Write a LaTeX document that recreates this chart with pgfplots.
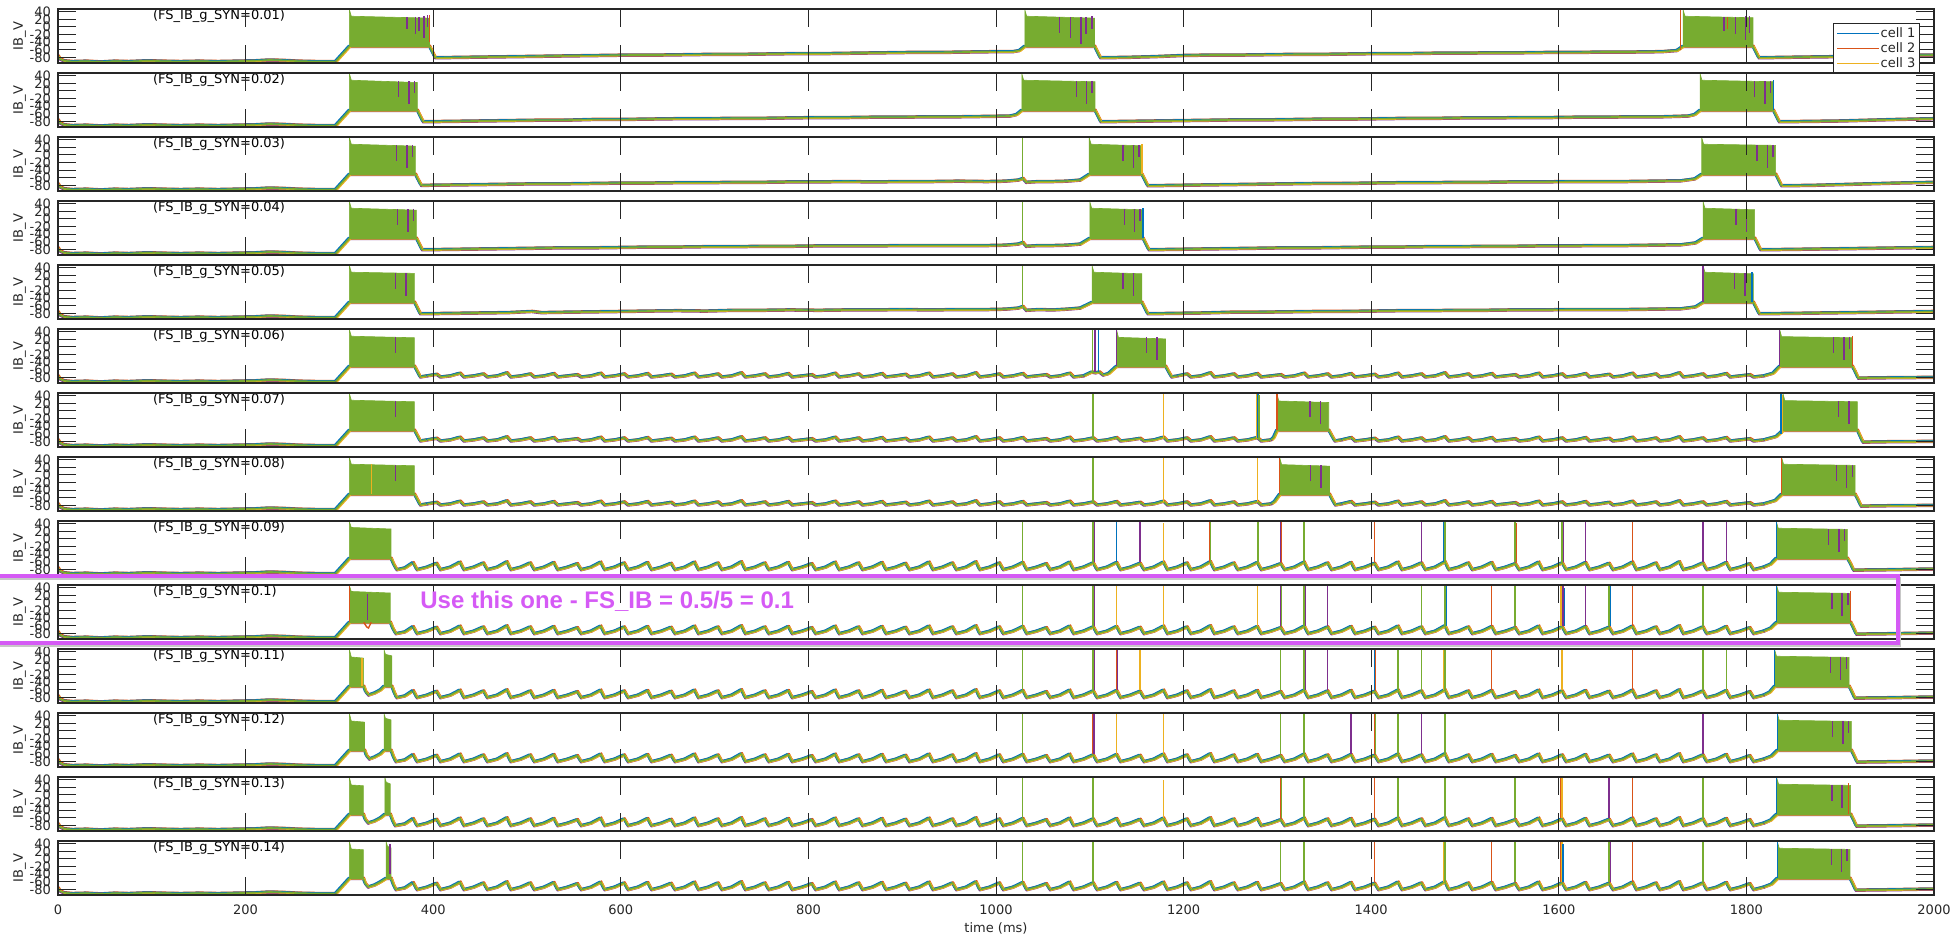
\documentclass[border=0pt]{standalone}
\usepackage{pgfplots}
\usepackage{pgfplotstable}
\pgfplotsset{compat=1.18}
\usepackage{fontspec}
\setmainfont{DejaVu Sans}
\newfontfamily\annfont{Liberation Sans}
\definecolor{c1}{RGB}{0,114,189}
\definecolor{c2}{RGB}{217,83,25}
\definecolor{c3}{RGB}{237,177,32}
\definecolor{c4}{RGB}{126,47,142}
\definecolor{c5}{RGB}{119,172,48}
\definecolor{mag}{RGB}{213,90,245}
\definecolor{axc}{RGB}{38,38,38}
\newcommand{\lab}{\fontsize{6.5pt}{7pt}\selectfont}

\pgfplotstableread{
t v
0 -76
2 -84
6 -89
15 -91
30 -90
45 -92
60 -90
75 -91
95 -89
110 -90
130 -91
150 -90
170 -91
190 -90
210 -89
225 -87
240 -88
255 -90
275 -91
296 -91
}\pretab

\pgfplotstableread{
t a b
378.5 -70 -62
382.5 -79 -81
393.5 -76 -74
403.5 -72 -64
407.5 -79 -81
418.5 -76 -74
428.5 -69 -61
432.5 -79 -81
443.5 -76 -74
453.5 -71 -63
457.5 -79 -81
468.5 -76 -74
478.5 -68 -60
482.5 -79 -81
493.5 -76 -74
503.5 -71 -63
507.5 -79 -81
518.5 -76 -74
528.5 -70 -62
532.5 -79 -81
543.5 -76 -74
553.5 -73 -65
557.5 -79 -81
568.5 -76 -74
578.5 -69 -61
582.5 -79 -81
593.5 -76 -74
603.5 -71 -63
607.5 -79 -81
618.5 -76 -74
628.5 -70 -62
632.5 -79 -81
643.5 -76 -74
653.5 -72 -64
657.5 -79 -81
668.5 -76 -74
678.5 -69 -61
682.5 -79 -81
693.5 -76 -74
703.5 -71 -63
707.5 -79 -81
718.5 -76 -74
728.5 -68 -60
732.5 -79 -81
743.5 -76 -74
753.5 -71 -63
757.5 -79 -81
768.5 -76 -74
778.5 -70 -62
782.5 -79 -81
793.5 -76 -74
803.5 -73 -65
807.5 -79 -81
818.5 -76 -74
828.5 -69 -61
832.5 -79 -81
843.5 -76 -74
853.5 -71 -63
857.5 -79 -81
868.5 -76 -74
878.5 -70 -62
882.5 -79 -81
893.5 -76 -74
903.5 -72 -64
907.5 -79 -81
918.5 -76 -74
928.5 -69 -61
932.5 -79 -81
943.5 -76 -74
953.5 -71 -63
957.5 -79 -81
968.5 -76 -74
978.5 -68 -60
982.5 -79 -81
993.5 -76 -74
1003.5 -71 -63
1007.5 -79 -81
1018.5 -76 -74
1028.5 -70 -62
1032.5 -79 -81
1043.5 -76 -74
1053.5 -73 -65
1057.5 -79 -81
1068.5 -76 -74
1078.5 -69 -61
1082.5 -79 -81
1093.5 -76 -74
1103.5 -71 -63
1107.5 -79 -81
1118.5 -76 -74
1128.5 -70 -62
1132.5 -79 -81
1143.5 -76 -74
1153.5 -72 -64
1157.5 -79 -81
1168.5 -76 -74
1178.5 -69 -61
1182.5 -79 -81
1193.5 -76 -74
1203.5 -71 -63
1207.5 -79 -81
1218.5 -76 -74
1228.5 -68 -60
1232.5 -79 -81
1243.5 -76 -74
1253.5 -71 -63
1257.5 -79 -81
1268.5 -76 -74
1278.5 -70 -62
1282.5 -79 -81
1293.5 -76 -74
1303.5 -73 -65
1307.5 -79 -81
1318.5 -76 -74
1328.5 -69 -61
1332.5 -79 -81
1343.5 -76 -74
1353.5 -71 -63
1357.5 -79 -81
1368.5 -76 -74
1378.5 -70 -62
1382.5 -79 -81
1393.5 -76 -74
1403.5 -72 -64
1407.5 -79 -81
1418.5 -76 -74
1428.5 -69 -61
1432.5 -79 -81
1443.5 -76 -74
1453.5 -71 -63
1457.5 -79 -81
1468.5 -76 -74
1478.5 -68 -60
1482.5 -79 -81
1493.5 -76 -74
1503.5 -71 -63
1507.5 -79 -81
1518.5 -76 -74
1528.5 -70 -62
1532.5 -79 -81
1543.5 -76 -74
1553.5 -73 -65
1557.5 -79 -81
1568.5 -76 -74
1578.5 -69 -61
1582.5 -79 -81
1593.5 -76 -74
1603.5 -71 -63
1607.5 -79 -81
1618.5 -76 -74
1628.5 -70 -62
1632.5 -79 -81
1643.5 -76 -74
1653.5 -72 -64
1657.5 -79 -81
1668.5 -76 -74
1678.5 -69 -61
1682.5 -79 -81
1693.5 -76 -74
1703.5 -71 -63
1707.5 -79 -81
1718.5 -76 -74
1728.5 -68 -60
1732.5 -79 -81
1743.5 -76 -74
1753.5 -71 -63
1757.5 -79 -81
1768.5 -76 -74
1778.5 -70 -62
1782.5 -79 -81
1793.5 -76 -74
1803.5 -73 -65
1807.5 -79 -81
1818.5 -76 -74
1828.5 -69 -61
1832.5 -79 -81
1843.5 -76 -74
}\saw

\pgfplotsset{
  tr/.style={forget plot, line width=0.8pt, line join=round},
  panel/.style={
    anchor=north west, at={(29pt,-#1)},
    scale only axis, width=938pt, height=27pt,
    xmin=0, xmax=2000, ymin=-95, ymax=47,
    xtick={0,200,...,2000}, ytick={-80,-60,...,40},
    xticklabels={},
    tick align=inside, major tick length=9pt,
    every tick/.style={line width=0.5pt, axc},
    axis line style={line width=0.7pt, axc},
    ticklabel style={font=\lab, text=axc},
    /pgf/number format/assume math mode=true,
    ylabel={IB\_V},
    ylabel style={at={(axis description cs:-0.0205,0.5)}, anchor=center, font=\lab, text=axc},
    axis on top,
  },
}

\newcommand{\fz}[2]{%
 \addplot[tr,c4,yshift=-0.5pt,#1] #2;
 \addplot[tr,c2,yshift=0.45pt,xshift=0.4pt,#1] #2;
 \addplot[tr,c1,yshift=0.3pt,xshift=-0.5pt,#1] #2;
 \addplot[tr,c3,yshift=-0.25pt,xshift=0.6pt,#1] #2;
 \addplot[tr,c5,#1] #2;}
\newcommand{\blk}[1]{\addplot[forget plot, fill=c5, draw=c5, line width=0.3pt] coordinates {#1} -- cycle;}
\newcommand{\stk}[2]{\addplot[forget plot, #1, line width=0.7pt, unbounded coords=jump] coordinates {#2};}
\newcommand{\ptitle}[1]{\node[anchor=west, inner sep=0pt, font=\lab, text=black] at (axis cs:101,28) {#1};}

\begin{document}
\begin{tikzpicture}
%% ---------------- panel 1
\begin{axis}[panel=4.5pt,
  legend style={at={(axis description cs:0.99254,0.7407)}, anchor=north east, draw=axc, line width=0.6pt, fill=white, font=\lab, inner xsep=1.5pt, inner ysep=1pt, row sep=0pt, text=axc,
    nodes={inner sep=0.5pt, text height=5.5pt, text depth=1pt}},
  legend cell align=left,
  legend image code/.code={\draw[#1] (0pt,0pt) -- (21pt,0pt);}]
\addlegendimage{c1,line width=0.6pt}\addlegendentry{cell 1}
\addlegendimage{c2,line width=0.6pt}\addlegendentry{cell 2}
\addlegendimage{c3,line width=0.6pt}\addlegendentry{cell 3}
\fz{}{table {\pretab}}
\fz{}{coordinates {(296,-91) (310.7,-51) (396,-51) (399,-66) (402,-81) (430,-80) (460,-79) (490,-78) (520,-77) (550,-76) (580,-75) (610,-74) (640,-74) (670,-73) (700,-72) (730,-72) (760,-71) (790,-70) (820,-70) (850,-69) (880,-68) (910,-67) (940,-67) (970,-66) (1000,-65) (1018,-65) (1025,-62) (1030.7,-51) (1105,-51) (1108,-66) (1111,-81) (1140,-80) (1170,-78) (1200,-75) (1230,-74) (1260,-74) (1290,-73) (1320,-72) (1350,-72) (1380,-71) (1410,-70) (1440,-70) (1470,-69) (1500,-69) (1530,-68) (1560,-68) (1590,-67) (1620,-67) (1650,-66) (1680,-66) (1710,-65) (1726,-62) (1732.5,-51) (1807,-51) (1810,-66) (1813,-81) (1840,-80) (1870,-79) (1900,-78) (1930,-76) (1960,-75) (2000,-74)}}
\blk{(310.7,-51) (310.7,45) (312.7,28) (396,23) (396,-51)}
\blk{(1030.7,-51) (1030.7,45) (1032.7,28) (1105,23) (1105,-51)}
\blk{(1732.5,-51) (1732.5,45) (1734.5,28) (1807,24) (1807,-51)}
\stk{c2}{(1729.5,-62) (1729.5,45) (1729.5,nan) (1779.7,26) (1779.7,-5) (1779.7,nan) (396,30) (396,-40) (396,nan)}
\stk{c4}{(372,25) (372,-5) (372,nan) (381,26) (381,-20) (381,nan) (385,25) (385,-12) (385,nan) (390,28) (390,-28) (390,nan) (394,30) (394,0) (394,nan) (1067.6,25) (1067.6,-15) (1067.6,nan) (1079.4,25) (1079.4,-30) (1079.4,nan) (1090.7,26) (1090.7,-44) (1090.7,nan) (1095.9,26) (1095.9,-20) (1095.9,nan) (1102.4,28) (1102.4,-5) (1102.4,nan) (1776,25) (1776,-10) (1776,nan) (1788.6,26) (1788.6,-20) (1788.6,nan) (1799.2,28) (1799.2,-35) (1799.2,nan) (1803,28) (1803,-15) (1803,nan)}
\ptitle{(FS\_IB\_g\_SYN=0.01)}
\end{axis}
%% ---------------- panel 2
\begin{axis}[panel=36.5pt]
\fz{}{table {\pretab}}
\fz{}{coordinates {(296,-91) (310.7,-51) (383,-51) (386,-66) (389,-81) (420,-80) (450,-79) (480,-78) (510,-77) (540,-77) (570,-75) (600,-75) (630,-74) (660,-73) (690,-73) (720,-72) (750,-72) (780,-71) (810,-70) (840,-70) (870,-69) (900,-69) (930,-68) (960,-68) (990,-67) (1015,-66) (1022,-62) (1027.5,-51) (1105.5,-51) (1108.5,-66) (1111.5,-81) (1140,-80) (1170,-79) (1200,-78) (1230,-77) (1260,-76) (1290,-76) (1320,-75) (1350,-74) (1380,-74) (1410,-73) (1440,-72) (1470,-72) (1500,-71) (1530,-71) (1560,-70) (1590,-70) (1620,-69) (1650,-69) (1680,-68) (1710,-68) (1738,-66) (1745,-62) (1750.6,-51) (1828.7,-51) (1831.7,-66) (1834.7,-81) (1870,-80) (1900,-79) (1930,-77) (1960,-75) (2000,-73)}}
\blk{(310.7,-51) (310.7,45) (312.7,28) (383,22) (383,-51)}
\blk{(1027.5,-51) (1027.5,45) (1029.5,28) (1105.5,24) (1105.5,-51)}
\blk{(1750.6,-51) (1750.6,45) (1752.6,28) (1828.7,24) (1828.7,-51)}
\stk{c4}{(363,25) (363,-15) (363,nan) (374,25) (374,-35) (374,nan) (380,26) (380,-5) (380,nan) (1085.5,25) (1085.5,-15) (1085.5,nan) (1096.5,25) (1096.5,-35) (1096.5,nan) (1102.5,26) (1102.5,-5) (1102.5,nan) (1808.7,25) (1808.7,-15) (1808.7,nan) (1819.7,25) (1819.7,-35) (1819.7,nan) (1825.7,26) (1825.7,-5) (1825.7,nan)}
\stk{c1}{(1828.7,28) (1828.7,-51) (1828.7,nan)}
\ptitle{(FS\_IB\_g\_SYN=0.02)}
\end{axis}
%% ---------------- panel 3
\begin{axis}[panel=68.5pt]
\fz{}{table {\pretab}}
\fz{}{coordinates {(296,-91) (310.7,-51) (381,-51) (384,-66) (387,-80) (420,-79) (450,-78) (480,-77) (510,-76) (540,-76) (570,-75) (600,-74) (630,-74) (660,-73) (690,-73) (720,-72) (750,-72) (780,-71) (810,-71) (840,-70) (870,-71) (900,-70) (930,-70) (960,-69) (990,-70) (1010,-69) (1024,-66) (1028.5,-62) (1032,-72) (1045,-70) (1060,-70) (1075,-69) (1090,-66) (1099.4,-51) (1155.5,-51) (1158.5,-66) (1161.5,-81) (1190,-80) (1220,-79) (1250,-78) (1280,-77) (1310,-76) (1340,-75) (1370,-75) (1400,-74) (1430,-73) (1460,-73) (1490,-72) (1520,-72) (1550,-71) (1580,-71) (1610,-70) (1640,-70) (1670,-70) (1700,-69) (1730,-68) (1745,-63) (1752.4,-51) (1831.2,-51) (1834.2,-66) (1837.2,-81) (1870,-80) (1900,-78) (1930,-76) (1960,-74) (2000,-72)}}
\blk{(310.7,-51) (310.7,45) (312.7,28) (381,23) (381,-51)}
\blk{(1099.4,-51) (1099.4,45) (1101.4,28) (1155.5,24) (1155.5,-51)}
\blk{(1752.4,-51) (1752.4,45) (1754.4,28) (1831.2,25) (1831.2,-51)}
\stk{c5}{(1028.5,-62) (1028.5,44) (1028.5,nan)}
\stk{c4}{(361,25) (361,-15) (361,nan) (372,25) (372,-35) (372,nan) (378,26) (378,-5) (378,nan) (1135.5,25) (1135.5,-15) (1135.5,nan) (1146.5,25) (1146.5,-35) (1146.5,nan) (1152.5,26) (1152.5,-5) (1152.5,nan) (1811.2,25) (1811.2,-15) (1811.2,nan) (1822.2,25) (1822.2,-35) (1822.2,nan) (1828.2,26) (1828.2,-5) (1828.2,nan)}
\stk{c3}{(1155.5,28) (1155.5,-51) (1155.5,nan)}
\ptitle{(FS\_IB\_g\_SYN=0.03)}
\end{axis}
%% ---------------- panel 4
\begin{axis}[panel=100.5pt]
\fz{}{table {\pretab}}
\fz{}{coordinates {(296,-91) (310.7,-51) (382,-51) (385,-66) (388,-81) (420,-80) (450,-79) (480,-78) (510,-77) (540,-76) (570,-76) (600,-75) (630,-74) (660,-74) (690,-73) (720,-73) (750,-72) (780,-72) (810,-71) (840,-71) (870,-71) (900,-70) (930,-70) (960,-70) (990,-70) (1010,-69) (1024,-66) (1028.5,-62) (1032,-72) (1045,-70) (1060,-70) (1075,-69) (1090,-66) (1100,-51) (1156.7,-51) (1159.7,-66) (1162.7,-81) (1190,-80) (1220,-79) (1250,-78) (1280,-77) (1310,-76) (1340,-76) (1370,-75) (1400,-74) (1430,-74) (1460,-73) (1490,-73) (1520,-72) (1550,-72) (1580,-71) (1610,-71) (1640,-70) (1670,-70) (1700,-69) (1730,-68) (1746,-63) (1753.8,-51) (1808.8,-51) (1811.8,-66) (1814.8,-81) (1850,-80) (1880,-79) (1910,-78) (1940,-77) (1970,-76) (2000,-75)}}
\blk{(310.7,-51) (310.7,45) (312.7,28) (382,23) (382,-51)}
\blk{(1100,-51) (1100,45) (1102,28) (1156.7,24) (1156.7,-51)}
\blk{(1753.8,-51) (1753.8,45) (1755.8,28) (1808.8,24) (1808.8,-51)}
\stk{c5}{(1028.5,-62) (1028.5,44) (1028.5,nan)}
\stk{c4}{(362,25) (362,-15) (362,nan) (373,25) (373,-35) (373,nan) (379,26) (379,-5) (379,nan) (1136.7,25) (1136.7,-15) (1136.7,nan) (1147.7,25) (1147.7,-35) (1147.7,nan) (1153.7,26) (1153.7,-5) (1153.7,nan) (1788.8,25) (1788.8,-15) (1788.8,nan) (1799.8,25) (1799.8,-35) (1799.8,nan)}
\stk{c1}{(1156.7,28) (1156.7,-51) (1156.7,nan)}
\ptitle{(FS\_IB\_g\_SYN=0.04)}
\end{axis}
%% ---------------- panel 5
\begin{axis}[panel=132.5pt]
\fz{}{table {\pretab}}
\fz{}{coordinates {(296,-91) (310.7,-51) (380,-51) (383,-66) (386,-81) (420,-80) (450,-79) (480,-78) (505,-75) (515,-78) (540,-77) (570,-76) (600,-75) (630,-74) (660,-73) (690,-74) (720,-72) (750,-72) (780,-71) (810,-72) (840,-71) (870,-71) (900,-70) (930,-71) (960,-70) (990,-70) (1010,-69) (1024,-66) (1028.5,-62) (1032,-72) (1045,-70) (1060,-71) (1075,-69) (1090,-66) (1102.4,-51) (1155.5,-51) (1158.5,-66) (1161.5,-81) (1190,-80) (1220,-79) (1250,-77) (1280,-77) (1310,-76) (1340,-75) (1370,-75) (1400,-74) (1430,-73) (1460,-73) (1490,-72) (1520,-72) (1550,-71) (1580,-71) (1610,-70) (1640,-70) (1670,-70) (1700,-69) (1730,-68) (1746,-63) (1753.8,-51) (1807.4,-51) (1810.4,-66) (1813.4,-81) (1850,-80) (1880,-79) (1910,-78) (1940,-77) (1970,-76) (2000,-75)}}
\blk{(310.7,-51) (310.7,45) (312.7,28) (380,25) (380,-51)}
\blk{(1102.4,-51) (1102.4,45) (1104.4,28) (1155.5,24) (1155.5,-51)}
\blk{(1753.8,-51) (1753.8,45) (1755.8,28) (1807.4,24) (1807.4,-51)}
\stk{c5}{(1028.5,-62) (1028.5,44) (1028.5,nan)}
\stk{c4}{(360,25) (360,-15) (360,nan) (371,25) (371,-35) (371,nan) (1135.5,25) (1135.5,-15) (1135.5,nan) (1146.5,25) (1146.5,-35) (1146.5,nan) (1787.4,25) (1787.4,-15) (1787.4,nan) (1798.4,25) (1798.4,-35) (1798.4,nan) (1753.8,45) (1753.8,-51) (1753.8,nan)}
\stk{c1}{(1806,28) (1806,-51) (1806,nan)}
\ptitle{(FS\_IB\_g\_SYN=0.05)}
\end{axis}
%% ---------------- panel 6
\begin{axis}[panel=164.5pt]
\fz{}{table {\pretab}}
\fz{}{coordinates {(296,-91) (310.7,-51) (380,-51) (383,-65) (386,-79) (393.5,-76)}}
\fz{restrict x to domain=393:1096}{table[x=t,y=a] {\saw}}
\fz{}{coordinates {(1093.5,-76) (1102,-66) (1106,-68) (1110,-66) (1114,-74) (1120,-70) (1128.5,-51) (1180.7,-51) (1184,-66) (1187,-79) (1193.5,-76)}}
\fz{restrict x to domain=1193:1820}{table[x=t,y=a] {\saw}}
\fz{}{coordinates {(1818.5,-76) (1828.5,-69) (1835.5,-51) (1912.9,-51) (1916,-66) (1919,-82) (1950,-81) (2000,-80)}}
\blk{(310.7,-51) (310.7,45) (312.7,28) (380,24) (380,-51)}
\blk{(1128.5,-51) (1128.5,45) (1130.5,25) (1180.7,21) (1180.7,-51)}
\blk{(1835.5,-51) (1835.5,45) (1837.5,27) (1912.9,24) (1912.9,-51)}
\stk{c1}{(1109.5,-66) (1109.5,45) (1109.5,nan)}
\stk{c4}{(1105.5,-66) (1105.5,45) (1105.5,nan) (1128.5,-51) (1128.5,45) (1128.5,nan) (1835.5,-51) (1835.5,45) (1835.5,nan) (360,25) (360,-15) (360,nan) (1160.7,25) (1160.7,-15) (1160.7,nan) (1171.7,25) (1171.7,-35) (1171.7,nan) (1892.9,25) (1892.9,-15) (1892.9,nan) (1903.9,25) (1903.9,-35) (1903.9,nan) (1909.9,26) (1909.9,-5) (1909.9,nan)}
\stk{c2}{(1912.9,28) (1912.9,-51) (1912.9,nan)}
\stk{c5}{(1103,-66) (1103,45) (1103,nan)}
\ptitle{(FS\_IB\_g\_SYN=0.06)}
\end{axis}
%% ---------------- panel 7
\begin{axis}[panel=196.5pt]
\fz{}{table {\pretab}}
\fz{}{coordinates {(296,-91) (310.7,-51) (380,-51) (383,-65) (386,-79) (393.5,-76)}}
\fz{restrict x to domain=393:1296}{table[x=t,y=a] {\saw}}
\fz{}{coordinates {(1293.5,-76) (1296,-70) (1299.5,-51) (1354.7,-51) (1358,-66) (1361,-79) (1368.5,-76)}}
\fz{restrict x to domain=1368:1820}{table[x=t,y=a] {\saw}}
\fz{}{coordinates {(1818.5,-76) (1832,-67) (1839,-51) (1918.3,-51) (1921,-66) (1924,-82) (1950,-81) (2000,-80)}}
\blk{(310.7,-51) (310.7,45) (312.7,28) (380,24) (380,-51)}
\blk{(1299.5,-51) (1299.5,45) (1301.5,26) (1354.7,22) (1354.7,-51)}
\blk{(1839,-51) (1839,45) (1841,27) (1918.3,24) (1918.3,-51)}
\stk{c3}{(1178.5,-70) (1178.5,44) (1178.5,nan) (1277.5,-70) (1277.5,44) (1277.5,nan) (1838,-60) (1838,42) (1838,nan)}
\stk{c1}{(1279.5,-70) (1279.5,44) (1279.5,nan) (1837,-60) (1837,44) (1837,nan)}
\stk{c4}{(360,25) (360,-15) (360,nan) (1334.7,25) (1334.7,-15) (1334.7,nan) (1345.7,25) (1345.7,-35) (1345.7,nan) (1898.3,25) (1898.3,-15) (1898.3,nan) (1909.3,25) (1909.3,-35) (1909.3,nan)}
\stk{c2}{(1299.5,-51) (1299.5,45) (1299.5,nan)}
\stk{c5}{(1103.5,-70) (1103.5,44) (1103.5,nan) (1280.5,-70) (1280.5,42) (1280.5,nan)}
\ptitle{(FS\_IB\_g\_SYN=0.07)}
\end{axis}
%% ---------------- panel 8
\begin{axis}[panel=228.5pt]
\fz{}{table {\pretab}}
\fz{}{coordinates {(296,-91) (310.7,-51) (380,-51) (383,-65) (386,-79) (393.5,-76)}}
\fz{restrict x to domain=393:1296}{table[x=t,y=a] {\saw}}
\fz{}{coordinates {(1293.5,-76) (1297,-70) (1302.5,-51) (1355.5,-51) (1358.5,-66) (1361.5,-79) (1368.5,-76)}}
\fz{restrict x to domain=1368:1820}{table[x=t,y=a] {\saw}}
\fz{}{coordinates {(1818.5,-76) (1831,-67) (1837.6,-51) (1915.8,-51) (1919,-66) (1922,-82) (1950,-81) (2000,-80)}}
\blk{(310.7,-51) (310.7,45) (312.7,28) (380,24) (380,-51)}
\blk{(1302.5,-51) (1302.5,45) (1304.5,27) (1355.5,23) (1355.5,-51)}
\blk{(1837.6,-51) (1837.6,45) (1839.6,28) (1915.8,25) (1915.8,-51)}
\stk{c3}{(1178.5,-70) (1178.5,44) (1178.5,nan) (1278.5,-70) (1278.5,44) (1278.5,nan) (334,28) (334,-51) (334,nan)}
\stk{c2}{(1837.6,-51) (1837.6,45) (1837.6,nan) (1302.5,-51) (1302.5,45) (1302.5,nan)}
\stk{c4}{(360,25) (360,-15) (360,nan) (1335.5,25) (1335.5,-15) (1335.5,nan) (1346.5,25) (1346.5,-35) (1346.5,nan) (1895.8,25) (1895.8,-15) (1895.8,nan) (1906.8,25) (1906.8,-35) (1906.8,nan) (1912.8,26) (1912.8,-5) (1912.8,nan)}
\stk{c5}{(1103.5,-70) (1103.5,44) (1103.5,nan)}
\ptitle{(FS\_IB\_g\_SYN=0.08)}
\end{axis}
%% ---------------- panel 9
\begin{axis}[panel=260.5pt]
\fz{}{table {\pretab}}
\fz{}{coordinates {(296,-91) (310.7,-51) (355,-51) (358,-68) (361,-81) (370,-76) (378.5,-62)}}
\fz{restrict x to domain=378:1820}{table[x=t,y=b] {\saw}}
\fz{}{coordinates {(1818.5,-74) (1826,-66) (1831.9,-51) (1907.6,-51) (1911,-66) (1914,-82) (1950,-81) (2000,-79)}}
\blk{(310.7,-51) (310.7,45) (312.7,30) (355,26) (355,-51)}
\blk{(1831.9,-51) (1831.9,45) (1833.9,28) (1907.6,25) (1907.6,-51)}
\stk{c2}{(1227.5,-62) (1227.5,44) (1227.5,nan) (1304.5,-62) (1304.5,44) (1304.5,nan) (1403.5,-62) (1403.5,44) (1403.5,nan) (1554.5,-62) (1554.5,42) (1554.5,nan) (1678.5,-62) (1678.5,44) (1678.5,nan)}
\stk{c3}{(1178.5,-62) (1178.5,41) (1178.5,nan) (1278.5,-62) (1278.5,44) (1278.5,nan)}
\stk{c1}{(1128.5,-62) (1128.5,44) (1128.5,nan) (1477.5,-62) (1477.5,44) (1477.5,nan) (1831.9,-51) (1831.9,45) (1831.9,nan)}
\stk{c4}{(1104.5,-62) (1104.5,44) (1104.5,nan) (1153.5,-62) (1153.5,44) (1153.5,nan) (1303.5,-62) (1303.5,44) (1303.5,nan) (1453.5,-62) (1453.5,44) (1453.5,nan) (1604.5,-62) (1604.5,44) (1604.5,nan) (1628.5,-62) (1628.5,44) (1628.5,nan) (1753.5,-62) (1753.5,44) (1753.5,nan) (1778.5,-62) (1778.5,44) (1778.5,nan) (1887.6,25) (1887.6,-15) (1887.6,nan) (1898.6,25) (1898.6,-35) (1898.6,nan) (1904.6,26) (1904.6,-5) (1904.6,nan)}
\stk{c5}{(1028.5,-62) (1028.5,44) (1028.5,nan) (1103.5,-62) (1103.5,44) (1103.5,nan) (1228.5,-62) (1228.5,44) (1228.5,nan) (1279.5,-62) (1279.5,44) (1279.5,nan) (1328.5,-62) (1328.5,44) (1328.5,nan) (1478.5,-62) (1478.5,44) (1478.5,nan) (1553.5,-62) (1553.5,44) (1553.5,nan) (1603.5,-62) (1603.5,44) (1603.5,nan)}
\ptitle{(FS\_IB\_g\_SYN=0.09)}
\end{axis}
%% ---------------- panel 10
\begin{axis}[panel=292.5pt]
\fz{}{table {\pretab}}
\fz{}{coordinates {(296,-91) (310.7,-51) (354.2,-51) (357,-68) (360,-81) (370,-76) (378.5,-62)}}
\fz{restrict x to domain=378:1820}{table[x=t,y=b] {\saw}}
\fz{}{coordinates {(1818.5,-74) (1826,-66) (1832.3,-51) (1911.1,-51) (1914,-66) (1917,-82) (1950,-81) (2000,-79)}}
\blk{(310.7,-51) (310.7,45) (312.7,30) (354.2,26) (354.2,-51)}
\blk{(1832.3,-51) (1832.3,45) (1834.3,28) (1911.1,25) (1911.1,-51)}
\stk{c2}{(310.7,-51) (310.7,45) (310.7,nan) (1528.5,-62) (1528.5,44) (1528.5,nan) (1678.5,-62) (1678.5,44) (1678.5,nan) (1911.1,30) (1911.1,-51) (1911.1,nan)}
\addplot[forget plot, c2, line width=0.7pt] coordinates {(326,-51) (329,-63) (331,-66) (334,-51)};
\stk{c3}{(1128.5,-62) (1128.5,44) (1128.5,nan) (1178.5,-62) (1178.5,44) (1178.5,nan) (1278.5,-62) (1278.5,44) (1278.5,nan) (1602.5,-62) (1602.5,44) (1602.5,nan)}
\stk{c1}{(1480.5,-62) (1480.5,44) (1480.5,nan) (1605.5,-62) (1605.5,40) (1605.5,nan) (1654.5,-62) (1654.5,44) (1654.5,nan) (1832.3,-51) (1832.3,45) (1832.3,nan)}
\stk{c4}{(330,24) (330,-45) (330,nan) (1104.5,-62) (1104.5,44) (1104.5,nan) (1303.5,-62) (1303.5,44) (1303.5,nan) (1329.5,-62) (1329.5,44) (1329.5,nan) (1353.5,-62) (1353.5,44) (1353.5,nan) (1479.5,-62) (1479.5,44) (1479.5,nan) (1604.5,-62) (1604.5,44) (1604.5,nan) (1628.5,-62) (1628.5,44) (1628.5,nan) (1754.5,-62) (1754.5,44) (1754.5,nan) (1891.1,25) (1891.1,-15) (1891.1,nan) (1902.1,25) (1902.1,-35) (1902.1,nan) (1908.1,26) (1908.1,-5) (1908.1,nan)}
\stk{c5}{(1028.5,-62) (1028.5,44) (1028.5,nan) (1103.5,-62) (1103.5,44) (1103.5,nan) (1304.5,-62) (1304.5,44) (1304.5,nan) (1328.5,-62) (1328.5,44) (1328.5,nan) (1453.5,-62) (1453.5,44) (1453.5,nan) (1478.5,-62) (1478.5,44) (1478.5,nan) (1553.5,-62) (1553.5,44) (1553.5,nan) (1653.5,-62) (1653.5,44) (1653.5,nan) (1753.5,-62) (1753.5,44) (1753.5,nan)}
\ptitle{(FS\_IB\_g\_SYN=0.1)}
\end{axis}
%% ---------------- panel 11
\begin{axis}[panel=324.5pt]
\fz{}{table {\pretab}}
\fz{}{coordinates {(296,-91) (310.7,-51) (325.9,-51) (327.9,-65) (330.9,-74) (338,-68) (344,-60) (347.6,-51) (355.9,-51) (358.4,-68) (360.9,-81) (370,-76) (378.5,-62)}}
\fz{restrict x to domain=378:1820}{table[x=t,y=b] {\saw}}
\fz{}{coordinates {(1818.5,-74) (1825,-66) (1830.1,-51) (1909.4,-51) (1912.4,-66) (1915.4,-82) (1950,-81) (2000,-79)}}
\blk{(310.7,-51) (310.7,45) (312.7,26) (325.9,23) (325.9,-51)}
\blk{(347.6,-51) (347.6,45) (349.1,33) (355.9,29) (355.9,-51)}
\blk{(1830.1,-51) (1830.1,45) (1832.1,28) (1909.4,25) (1909.4,-51)}
\stk{c2}{(1128.5,-62) (1128.5,44) (1128.5,nan) (1404.5,-62) (1404.5,44) (1404.5,nan) (1528.5,-62) (1528.5,44) (1528.5,nan) (1678.5,-62) (1678.5,44) (1678.5,nan)}
\stk{c3}{(1153.5,-62) (1153.5,44) (1153.5,nan) (1477.5,-62) (1477.5,44) (1477.5,nan) (1603.5,-62) (1603.5,44) (1603.5,nan) (324,24) (324,-51) (324,nan)}
\stk{c1}{(1403.5,-62) (1403.5,44) (1403.5,nan) (1830.1,-51) (1830.1,45) (1830.1,nan)}
\stk{c4}{(1104.5,-62) (1104.5,44) (1104.5,nan) (1129.5,-62) (1129.5,44) (1129.5,nan) (1329.5,-62) (1329.5,44) (1329.5,nan) (1353.5,-62) (1353.5,44) (1353.5,nan) (1754.5,-62) (1754.5,44) (1754.5,nan) (1889.4,25) (1889.4,-15) (1889.4,nan) (1900.4,25) (1900.4,-35) (1900.4,nan) (1906.4,26) (1906.4,-5) (1906.4,nan)}
\stk{c5}{(1028.5,-62) (1028.5,44) (1028.5,nan) (1103.5,-62) (1103.5,44) (1103.5,nan) (1303.5,-62) (1303.5,44) (1303.5,nan) (1328.5,-62) (1328.5,44) (1328.5,nan) (1428.5,-62) (1428.5,44) (1428.5,nan) (1453.5,-62) (1453.5,44) (1453.5,nan) (1478.5,-62) (1478.5,44) (1478.5,nan) (1753.5,-62) (1753.5,44) (1753.5,nan) (1778.5,-62) (1778.5,44) (1778.5,nan)}
\ptitle{(FS\_IB\_g\_SYN=0.11)}
\end{axis}
%% ---------------- panel 12
\begin{axis}[panel=356.5pt]
\fz{}{table {\pretab}}
\fz{}{coordinates {(296,-91) (310.7,-51) (326.8,-51) (328.8,-65) (331.8,-74) (338,-68) (344,-60) (347.6,-51) (355,-51) (357.5,-68) (360,-81) (370,-76) (378.5,-62)}}
\fz{restrict x to domain=378:1820}{table[x=t,y=b] {\saw}}
\fz{}{coordinates {(1818.5,-74) (1827,-66) (1833,-51) (1911.8,-51) (1914.8,-66) (1917.8,-82) (1950,-81) (2000,-79)}}
\blk{(310.7,-51) (310.7,45) (312.7,26) (326.8,23) (326.8,-51)}
\blk{(347.6,-51) (347.6,45) (349.1,33) (355,29) (355,-51)}
\blk{(1833,-51) (1833,45) (1835,28) (1911.8,25) (1911.8,-51)}
\stk{c2}{(1103.5,-62) (1103.5,44) (1103.5,nan) (1403.5,-62) (1403.5,44) (1403.5,nan)}
\stk{c3}{(1128.5,-62) (1128.5,44) (1128.5,nan) (1178.5,-62) (1178.5,44) (1178.5,nan)}
\stk{c1}{(1833,-51) (1833,45) (1833,nan)}
\stk{c4}{(1104.5,-62) (1104.5,44) (1104.5,nan) (1378.5,-62) (1378.5,44) (1378.5,nan) (1453.5,-62) (1453.5,44) (1453.5,nan) (1479.5,-62) (1479.5,44) (1479.5,nan) (1753.5,-62) (1753.5,44) (1753.5,nan) (1891.8,25) (1891.8,-15) (1891.8,nan) (1902.8,25) (1902.8,-35) (1902.8,nan) (1908.8,26) (1908.8,-5) (1908.8,nan)}
\stk{c5}{(1028.5,-62) (1028.5,44) (1028.5,nan) (1303.5,-62) (1303.5,44) (1303.5,nan) (1328.5,-62) (1328.5,44) (1328.5,nan) (1404.5,-62) (1404.5,44) (1404.5,nan) (1428.5,-62) (1428.5,44) (1428.5,nan) (1478.5,-62) (1478.5,44) (1478.5,nan)}
\ptitle{(FS\_IB\_g\_SYN=0.12)}
\end{axis}
%% ---------------- panel 13
\begin{axis}[panel=388.5pt]
\fz{}{table {\pretab}}
\fz{}{coordinates {(296,-91) (310.7,-51) (325.5,-51) (327.5,-65) (330.5,-74) (338,-68) (344,-60) (348.5,-51) (354.2,-51) (356.7,-68) (359.2,-81) (370,-76) (378.5,-62)}}
\fz{restrict x to domain=378:1820}{table[x=t,y=b] {\saw}}
\fz{}{coordinates {(1818.5,-74) (1826,-66) (1832.3,-51) (1911.1,-51) (1914.1,-66) (1917.1,-82) (1950,-81) (2000,-79)}}
\blk{(310.7,-51) (310.7,45) (312.7,26) (325.5,24) (325.5,-51)}
\blk{(348.5,-51) (348.5,45) (350,33) (354.2,29) (354.2,-51)}
\blk{(1832.3,-51) (1832.3,45) (1834.3,28) (1911.1,25) (1911.1,-51)}
\stk{c2}{(1303.5,-62) (1303.5,44) (1303.5,nan) (1403.5,-62) (1403.5,44) (1403.5,nan) (1602.5,-62) (1602.5,44) (1602.5,nan) (1678.5,-62) (1678.5,44) (1678.5,nan) (1909,30) (1909,-51) (1909,nan)}
\stk{c3}{(1178.5,-62) (1178.5,40) (1178.5,nan) (1603.5,-62) (1603.5,44) (1603.5,nan)}
\stk{c1}{(1479.5,-62) (1479.5,44) (1479.5,nan) (1832.3,-51) (1832.3,45) (1832.3,nan)}
\stk{c4}{(1653.5,-62) (1653.5,44) (1653.5,nan) (1891.1,25) (1891.1,-15) (1891.1,nan) (1902.1,25) (1902.1,-35) (1902.1,nan)}
\stk{c5}{(1028.5,-62) (1028.5,44) (1028.5,nan) (1103.5,-62) (1103.5,44) (1103.5,nan) (1304.5,-62) (1304.5,44) (1304.5,nan) (1328.5,-62) (1328.5,44) (1328.5,nan) (1428.5,-62) (1428.5,44) (1428.5,nan) (1478.5,-62) (1478.5,44) (1478.5,nan) (1553.5,-62) (1553.5,44) (1553.5,nan) (1753.5,-62) (1753.5,44) (1753.5,nan)}
\ptitle{(FS\_IB\_g\_SYN=0.13)}
\end{axis}
%% ---------------- panel 14
\begin{axis}[panel=420.5pt,
  xticklabels={0,200,400,600,800,1000,1200,1400,1600,1800,2000},
  xticklabel style={yshift=-1.5pt},
  xlabel={time (ms)},
  xlabel style={at={(axis description cs:0.5,-0.611)}, anchor=center, font=\lab, text=axc}]
\fz{}{table {\pretab}}
\fz{}{coordinates {(296,-91) (310.7,-51) (325.5,-51) (327.5,-65) (330.5,-74) (338,-68) (344,-60) (349.8,-51) (355,-51) (357.5,-68) (360,-81) (370,-76) (378.5,-62)}}
\fz{restrict x to domain=378:1820}{table[x=t,y=b] {\saw}}
\fz{}{coordinates {(1818.5,-74) (1827,-66) (1833,-51) (1910.4,-51) (1913.4,-66) (1916.4,-82) (1950,-81) (2000,-79)}}
\blk{(310.7,-51) (310.7,45) (312.7,26) (325.5,24) (325.5,-51)}
\blk{(349.8,-51) (349.8,45) (351.3,33) (355,29) (355,-51)}
\blk{(1833,-51) (1833,45) (1835,28) (1910.4,25) (1910.4,-51)}
\stk{c2}{(1403.5,-62) (1403.5,44) (1403.5,nan) (1528.5,-62) (1528.5,44) (1528.5,nan) (1602.5,-62) (1602.5,44) (1602.5,nan) (1678.5,-62) (1678.5,44) (1678.5,nan)}
\stk{c3}{(1477.5,-62) (1477.5,44) (1477.5,nan) (1603.5,-62) (1603.5,44) (1603.5,nan)}
\stk{c1}{(1604.5,-62) (1604.5,40) (1604.5,nan) (1833,-51) (1833,45) (1833,nan)}
\stk{c4}{(1654.5,-62) (1654.5,44) (1654.5,nan) (354,40) (354,-40) (354,nan) (1890.4,25) (1890.4,-15) (1890.4,nan) (1901.4,25) (1901.4,-35) (1901.4,nan) (1907.4,26) (1907.4,-5) (1907.4,nan)}
\stk{c5}{(1028.5,-62) (1028.5,44) (1028.5,nan) (1103.5,-62) (1103.5,44) (1103.5,nan) (1303.5,-62) (1303.5,44) (1303.5,nan) (1328.5,-62) (1328.5,44) (1328.5,nan) (1478.5,-62) (1478.5,44) (1478.5,nan) (1553.5,-62) (1553.5,44) (1553.5,nan) (1653.5,-62) (1653.5,44) (1653.5,nan) (1753.5,-62) (1753.5,44) (1753.5,nan)}
\ptitle{(FS\_IB\_g\_SYN=0.14)}
\end{axis}
%% ---------------- annotation
\draw[black!22, line width=1.4pt] (-5pt,-289.4pt) -- (949.9pt,-289.4pt) -- (949.9pt,-323pt) -- (-5pt,-323pt);
\draw[mag, line width=1.65pt] (-5pt,-288pt) rectangle (949pt,-321.5pt);
\node[anchor=base west, inner sep=0pt, text=mag, font=\annfont\bfseries\fontsize{12pt}{12pt}\selectfont] at (210pt,-304pt) {Use this one - FS\_IB = 0.5/5 = 0.1};
\pgfresetboundingbox
\path[use as bounding box] (0pt,0pt) rectangle (977pt,-471.5pt);
\end{tikzpicture}
\end{document}
